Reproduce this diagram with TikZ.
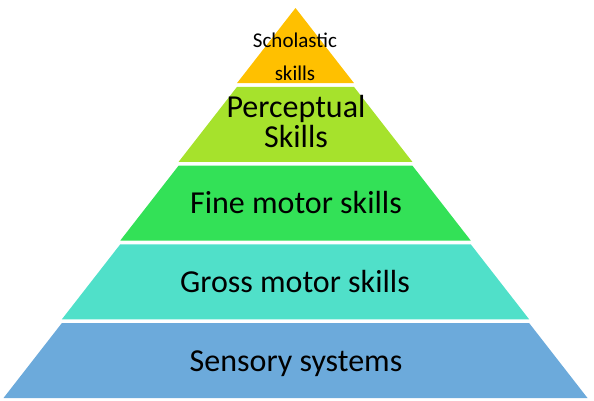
\documentclass[tikz,border=0pt]{standalone}
\usepackage{fontspec}
\setmainfont{Carlito}
\definecolor{cYellow}{HTML}{FFC000}
\definecolor{cLime}{HTML}{A6E22C}
\definecolor{cGreen}{HTML}{33E157}
\definecolor{cTeal}{HTML}{50E0C9}
\definecolor{cBlue}{HTML}{6CAADB}
\tikzset{
  layer/.style={draw=none},
  bigtxt/.style={anchor=base, inner sep=0pt, font=\fontsize{32}{36}\selectfont, text=black},
  smalltxt/.style={anchor=base, inner sep=0pt, font=\fontsize{21}{24}\selectfont, text=black},
}
\begin{document}
\begin{tikzpicture}[x=1pt,y=-1pt]
\useasboundingbox (0,0) rectangle (594,400);
\def\cx{295.5}
\def\hw{58.4}
% layers: top y, bottom y, top half width index k, bottom k+1
\fill[layer,cYellow] (\cx,8) -- (\cx+\hw,83) -- (\cx-\hw,83) -- cycle;
\fill[layer,cLime] (\cx-\hw,86.75) -- (\cx+\hw,86.75) -- (\cx+2*\hw,161.75) -- (\cx-2*\hw,161.75) -- cycle;
\fill[layer,cGreen] (\cx-2*\hw,165.5) -- (\cx+2*\hw,165.5) -- (\cx+3*\hw,240.5) -- (\cx-3*\hw,240.5) -- cycle;
\fill[layer,cTeal] (\cx-3*\hw,244.25) -- (\cx+3*\hw,244.25) -- (\cx+4*\hw,319.25) -- (\cx-4*\hw,319.25) -- cycle;
\fill[layer,cBlue] (\cx-4*\hw,323) -- (\cx+4*\hw,323) -- (\cx+5*\hw,398) -- (\cx-5*\hw,398) -- cycle;
\node[smalltxt] (sch1) at (295,47) {Scholastic};
\node[smalltxt] (sch2) at (295,80) {skills};
\node[bigtxt] (per1) at (296,117) {Perceptual};
\node[bigtxt] (per2) at (296,147) {Skills};
\node[bigtxt] (fine) at (296,213) {Fine motor skills};
\node[bigtxt] (gross) at (295,292) {Gross motor skills};
\node[bigtxt] (sens) at (296,371) {Sensory systems};
\end{tikzpicture}
\end{document}
